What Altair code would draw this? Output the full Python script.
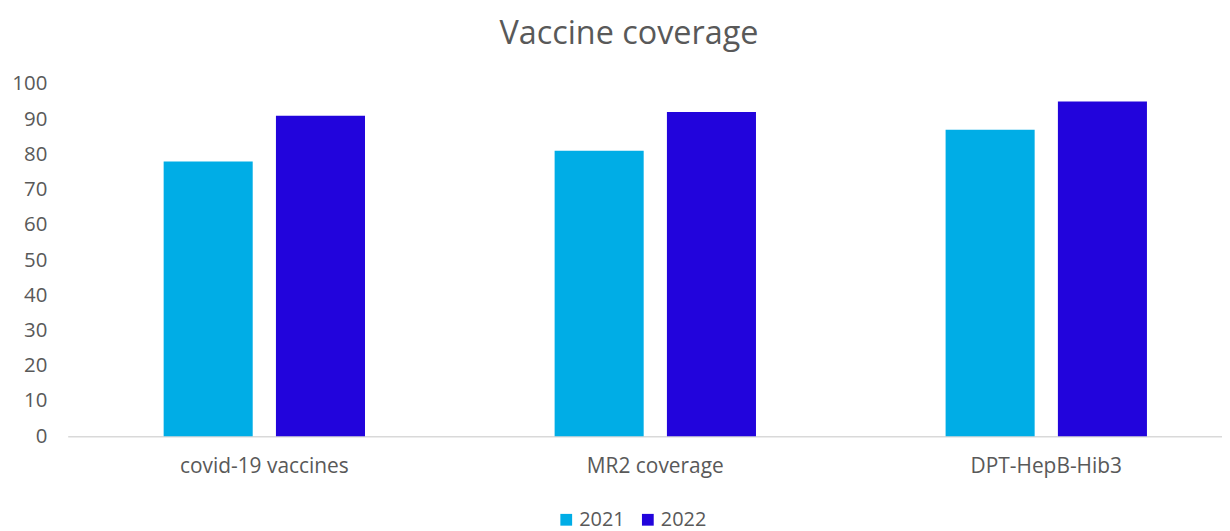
import altair as alt
import pandas as pd

categories = ["covid-19 vaccines", "MR2 coverage", "DPT-HepB-Hib3"]
values_2021 = [78, 81, 87]
values_2022 = [91, 92, 95]
years = ["2021", "2022"]
colors = ["#00ADE6", "#2204DC"]

rows = []
for c, a, b in zip(categories, values_2021, values_2022):
    rows.append({"category": c, "year": years[0], "value": a})
    rows.append({"category": c, "year": years[1], "value": b})
df = pd.DataFrame(rows)

font = "Open Sans"
grey = "#595959"

chart = alt.Chart(df).mark_bar().encode(
    x=alt.X("category:N", sort=categories, title=None,
            scale=alt.Scale(paddingInner=0.485, paddingOuter=0.2454, range=[0, 1181]),
            axis=alt.Axis(labelAngle=0, labelFontSize=21, labelColor=grey, labelFont=font,
                          ticks=False, domainColor="#D9D9D9", domainWidth=1.5,
                          labelPadding=19, grid=False)),
    xOffset=alt.XOffset("year:N", scale=alt.Scale(paddingInner=0.207)),
    y=alt.Y("value:Q", title=None,
            scale=alt.Scale(domain=[0, 100]),
            axis=alt.Axis(values=list(range(0, 101, 10)), labelFontSize=20.5, labelColor=grey,
                          labelFont=font, ticks=False, domain=False, grid=False,
                          labelPadding=21)),
    color=alt.Color("year:N", scale=alt.Scale(domain=years, range=colors),
                    legend=alt.Legend(title=None, orient="none", direction="horizontal",
                                      legendX=491, legendY=428, symbolType="square",
                                      symbolSize=140, symbolStrokeWidth=0,
                                      labelFontSize=20, labelColor=grey, labelFont=font,
                                      columnPadding=13, labelOffset=3)),
).properties(
    width=1160,
    height=354,
    autosize=alt.AutoSizeParams(type="none"),
    padding={"left": 60, "top": 75, "right": 0, "bottom": 100},
    title=alt.TitleParams("Vaccine coverage", fontSize=32.5, color=grey, font=font,
                          fontWeight="normal", anchor="middle", offset=24, dx=-16),
).configure_view(stroke=None)

chart.save("out.html", embed_options={"renderer": "svg", "actions": False})
